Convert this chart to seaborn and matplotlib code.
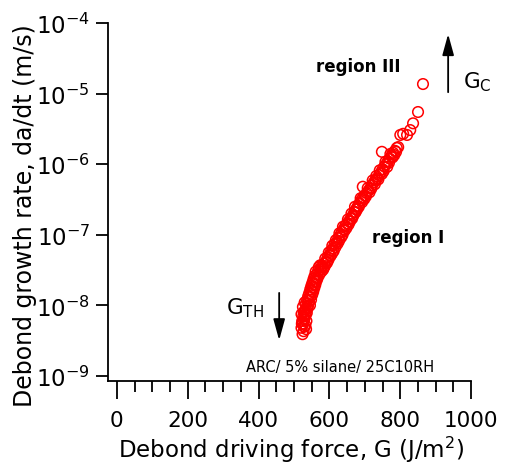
import numpy as np
import pandas as pd
import matplotlib
matplotlib.use("Agg")
import matplotlib.pyplot as plt
import seaborn as sns
from matplotlib.ticker import MultipleLocator, FixedLocator, LogLocator, NullLocator

# ==========================================
# DATA
# ==========================================

G_vals = [
    524, 527, 521, 529, 525, 532, 523, 528, 535, 526,
    531, 521, 536, 529, 533, 538, 525, 540, 534, 530,
    542, 537, 545, 540, 547, 543, 550, 546, 553, 549,
    556, 552, 559, 555, 562, 558, 565, 561, 568,
    570, 578, 574, 584,
    575, 580, 585, 590, 588, 595, 600, 598, 605, 610,
    608, 615, 620, 618, 625, 630, 628, 635, 640, 638,
    645, 650, 655, 652, 660, 665, 662, 670, 675, 672,
    680, 685, 690, 688, 695, 700, 705, 710, 708, 715,
    720, 725, 722, 730, 735, 732, 740, 745, 742, 750,
    755, 760, 758, 765, 770, 775, 772, 780, 785, 790,
    794, 800, 808, 819, 828, 836, 850, 864,
    694, 748,
    545, 548, 551, 554, 557, 560, 563, 566, 571, 577,
    582, 587, 593, 597, 603, 607, 612, 617, 623, 627,
    633, 637, 643, 648, 654, 658, 664, 668, 674, 678,
    683, 692, 698, 703, 713, 718, 728, 738, 748, 753,
    763, 768, 778, 783, 788, 530, 533, 527, 536, 522,
    534,
]

rate_vals = [
    3.9e-9, 4.3e-9, 4.8e-9, 5.0e-9, 5.5e-9, 5.2e-9, 6.0e-9, 6.3e-9, 6.0e-9, 7.0e-9,
    7.2e-9, 7.5e-9, 7.8e-9, 8.2e-9, 8.8e-9, 9.0e-9, 9.5e-9, 1.0e-8, 1.05e-8, 1.1e-8,
    1.15e-8, 1.2e-8, 1.3e-8, 1.35e-8, 1.45e-8, 1.5e-8, 1.6e-8, 1.7e-8, 1.8e-8, 1.9e-8,
    2.0e-8, 2.1e-8, 2.2e-8, 2.35e-8, 2.5e-8, 2.6e-8, 2.8e-8, 3.0e-8, 3.1e-8,
    3.5e-8, 3.6e-8, 3.7e-8, 3.4e-8,
    3.2e-8, 3.5e-8, 3.9e-8, 4.2e-8, 4.6e-8, 4.8e-8, 5.2e-8, 5.6e-8, 6.0e-8, 6.4e-8,
    7.0e-8, 7.4e-8, 7.8e-8, 8.4e-8, 9.0e-8, 9.8e-8, 1.05e-7, 1.1e-7, 1.2e-7, 1.3e-7,
    1.35e-7, 1.45e-7, 1.55e-7, 1.65e-7, 1.7e-7, 1.85e-7, 2.0e-7, 2.1e-7, 2.3e-7, 2.5e-7,
    2.55e-7, 2.8e-7, 3.1e-7, 3.3e-7, 3.4e-7, 3.6e-7, 3.9e-7, 4.2e-7, 4.6e-7, 4.6e-7,
    5.0e-7, 5.5e-7, 5.9e-7, 6.0e-7, 6.3e-7, 6.8e-7, 7.0e-7, 7.6e-7, 8.2e-7, 8.5e-7,
    9.3e-7, 1.0e-6, 1.08e-6, 1.1e-6, 1.2e-6, 1.3e-6, 1.4e-6, 1.45e-6, 1.55e-6, 1.7e-6,
    1.75e-6, 2.6e-6, 2.7e-6, 2.6e-6, 3.05e-6, 3.8e-6, 5.5e-6, 1.37e-5,
    4.8e-7, 1.5e-6,
    1.0e-8, 1.2e-8, 1.4e-8, 1.55e-8, 1.75e-8, 1.95e-8, 2.2e-8, 2.4e-8, 2.7e-8, 3.0e-8,
    3.2e-8, 3.6e-8, 4.0e-8, 4.4e-8, 5.0e-8, 5.4e-8, 5.9e-8, 6.7e-8, 7.5e-8, 8.2e-8,
    9.2e-8, 1.0e-7, 1.15e-7, 1.25e-7, 1.4e-7, 1.55e-7, 1.7e-7, 1.9e-7, 2.1e-7, 2.3e-7,
    2.5e-7, 2.9e-7, 3.2e-7, 3.5e-7, 4.0e-7, 4.5e-7, 5.2e-7, 6.1e-7, 7.3e-7, 8.0e-7,
    9.2e-7, 1.05e-6, 1.25e-6, 1.35e-6, 1.5e-6, 6.6e-9, 7.5e-9, 8.0e-9, 9.5e-9, 5.5e-9,
    4.6e-9,
]

x_ticks = [0, 200, 400, 600, 800, 1000]
y_ticks = [1e-9, 1e-8, 1e-7, 1e-6, 1e-5, 1e-4]

df = pd.DataFrame({"G": G_vals, "rate": rate_vals})

# ==========================================
# PLOT
# ==========================================

sns.set_style("ticks")
plt.rcParams["font.family"] = ["DejaVu Sans"]
plt.rcParams["text.color"] = "black"
plt.rcParams["axes.labelcolor"] = "black"
plt.rcParams["xtick.color"] = "black"
plt.rcParams["ytick.color"] = "black"

fig = plt.figure(figsize=(5.05, 4.64), dpi=100)
ax = fig.add_axes([0.214, 0.177, 0.719, 0.771])

sns.scatterplot(
    data=df,
    x="G",
    y="rate",
    marker="o",
    s=58,
    facecolors="none",
    edgecolor="red",
    linewidth=1.1,
    ax=ax,
)

ax.set_yscale("log")
ax.set_xlim(-25, 1000)
ax.set_ylim(8.5e-10, 1e-4)

ax.xaxis.set_major_locator(FixedLocator(x_ticks))
ax.xaxis.set_minor_locator(MultipleLocator(50))
ax.yaxis.set_major_locator(FixedLocator(y_ticks))
ax.yaxis.set_minor_locator(NullLocator())

sns.despine(ax=ax)
for side in ["left", "bottom"]:
    ax.spines[side].set_linewidth(1.3)
    ax.spines[side].set_color("black")

ax.tick_params(axis="both", which="major", length=9, width=1.3,
               direction="out", color="black")
ax.tick_params(axis="x", which="major", length=13)
ax.tick_params(axis="x", which="minor", length=8, width=1.3,
               direction="out", color="black")
ax.tick_params(axis="x", labelsize=15.5, pad=8)
ax.tick_params(axis="y", labelsize=16.5, pad=4)

ax.set_xlabel("Debond driving force, G (J/m$^2$)", fontsize=16.5)
ax.set_ylabel("Debond growth rate, da/dt (m/s)", fontsize=17)
ax.xaxis.set_label_coords(0.504, -0.148)
ax.yaxis.set_label_coords(-0.196, 0.466)

# annotations
ax.text(681, 2.5e-5, "region III", fontsize=12, fontweight="bold",
        ha="center", va="center")
ax.text(822, 9.3e-8, "region I", fontsize=12, fontweight="bold",
        ha="center", va="center")
ax.text(977, 1.5e-5, "G$_{\\mathregular{C}}$", fontsize=15.5,
        ha="left", va="center")
ax.text(360, 9.5e-9, "G$_{\\mathregular{TH}}$", fontsize=15.5,
        ha="center", va="center")
ax.text(630, 1.38e-9, "ARC/ 5% silane/ 25C10RH", fontsize=10.5,
        ha="center", va="center")

arrow_style = "-|>,head_length=0.8,head_width=0.22"
ax.annotate("", xy=(935, 7.0e-5), xytext=(935, 1.05e-5),
            arrowprops=dict(arrowstyle=arrow_style, color="black", lw=1.3,
                            mutation_scale=16, shrinkA=0, shrinkB=0))
ax.annotate("", xy=(458, 3.2e-9), xytext=(458, 1.5e-8),
            arrowprops=dict(arrowstyle=arrow_style, color="black", lw=1.3,
                            mutation_scale=16, shrinkA=0, shrinkB=0))

plt.savefig("out.png", dpi=100)
plt.close()
